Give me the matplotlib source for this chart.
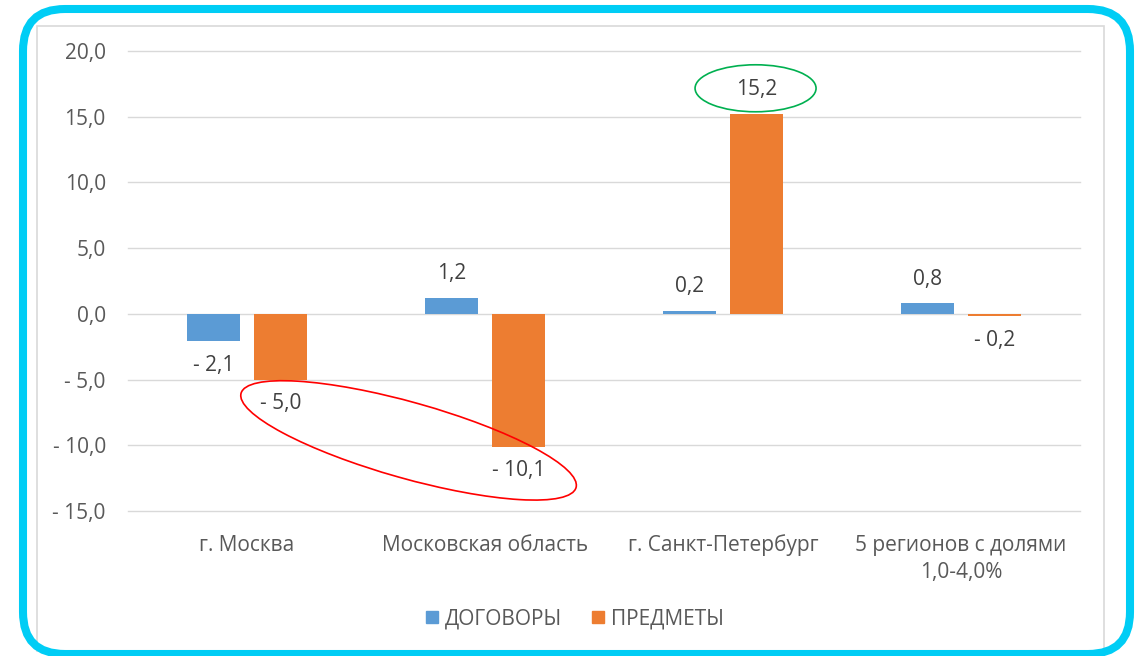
import numpy as np
import matplotlib.pyplot as plt
from matplotlib.patches import FancyBboxPatch, Rectangle, Ellipse
from matplotlib.lines import Line2D
from matplotlib.transforms import IdentityTransform

plt.rcParams['font.family'] = ['Open Sans', 'DejaVu Sans']

categories = ['г. Москва', 'Московская область', 'г. Санкт-Петербург',
              '5 регионов с долями\n1,0-4,0%']
dogovory = [-2.1, 1.2, 0.2, 0.8]
predmety = [-5.0, -10.1, 15.2, -0.2]
series_names = ['ДОГОВОРЫ', 'ПРЕДМЕТЫ']
yticks = [-15, -10, -5, 0, 5, 10, 15, 20]

BLUE = '#5b9bd5'
ORANGE = '#ed7d31'
GREY_TXT = '#595959'


def fmt(v):
    s = f'{abs(v):.1f}'.replace('.', ',')
    return ('- ' + s) if v < 0 else s


fig = plt.figure(figsize=(11.38, 6.56), dpi=100)
W, H = 1138, 656
ax = fig.add_axes([128 / W, 1 - 511 / H, 952 / W, 460 / H])

x = np.arange(len(categories))
bw = 0.223
off = 0.141
ax.bar(x - off, dogovory, bw, color=BLUE, zorder=3)
ax.bar(x + off, predmety, bw, color=ORANGE, zorder=3)

ax.set_xlim(-0.5, len(categories) - 0.5)
ax.set_ylim(-15, 20)
ax.set_yticks(yticks)
ax.set_yticklabels([fmt(v) for v in yticks], fontsize=15, color=GREY_TXT)
ax.set_xticks(x)
ax.set_xticklabels(categories, fontsize=15, color=GREY_TXT, linespacing=1.4)
ax.tick_params(axis='both', length=0)
ax.tick_params(axis='y', pad=16)
ax.tick_params(axis='x', pad=17)
ax.yaxis.grid(True, color='#d9d9d9', lw=1)
for gl in ax.get_ygridlines():
    gl.set_clip_on(False)
ax.set_axisbelow(True)
for s in ax.spines.values():
    s.set_visible(False)

# value labels
label_pos = {}
for i, (d, p) in enumerate(zip(dogovory, predmety)):
    for xi, v, key in ((x[i] - off, d, ('d', i)), (x[i] + off, p, ('p', i))):
        dy = 17.5 if v >= 0 else -17.5
        ax.annotate(fmt(v), (xi, v), xytext=(0, dy), textcoords='offset points',
                    ha='center', va='center', fontsize=15, color='#404040')
        px = ax.transData.transform((xi, v))
        label_pos[key] = (px[0], px[1] + dy * 100 / 72)

# highlight ellipses
a = np.array(label_pos[('p', 0)])
b = np.array(label_pos[('p', 1)])
c = (a + b) / 2 + np.array([9, -3])
ang = np.degrees(np.arctan2(b[1] - a[1], b[0] - a[0]))
fig.add_artist(Ellipse(c, 348, 76, angle=ang, fill=False, ec='#ff0000', lw=1.2,
                       transform=IdentityTransform()))
g = np.array(label_pos[('p', 2)])
fig.add_artist(Ellipse(g + np.array([-1, 1.5]), 121, 47, fill=False, ec='#00b050', lw=1.2,
                       transform=IdentityTransform()))

# legend
handles = [Line2D([], [], marker='s', ls='', color=BLUE, markersize=8),
           Line2D([], [], marker='s', ls='', color=ORANGE, markersize=8)]
leg = fig.legend(handles, series_names, loc='center', bbox_to_anchor=(575 / W, 1 - 619 / H),
                 ncol=2, frameon=False, handlelength=0.6, handletextpad=0.3,
                 columnspacing=1.45, fontsize=15)
for t in leg.get_texts():
    t.set_color(GREY_TXT)

# chart frame and cyan rounded border
fig.add_artist(Rectangle((37, 5), 1104 - 37, 630 - 5, fill=False, ec='#d9d9d9', lw=1.2,
                         transform=IdentityTransform()))
fig.add_artist(FancyBboxPatch((23, 2), 1107, 645, boxstyle='round,pad=0,rounding_size=42',
                              fill=False, ec='#00cdf5', lw=5.8,
                              transform=IdentityTransform()))

fig.savefig('out.png', dpi=100)
